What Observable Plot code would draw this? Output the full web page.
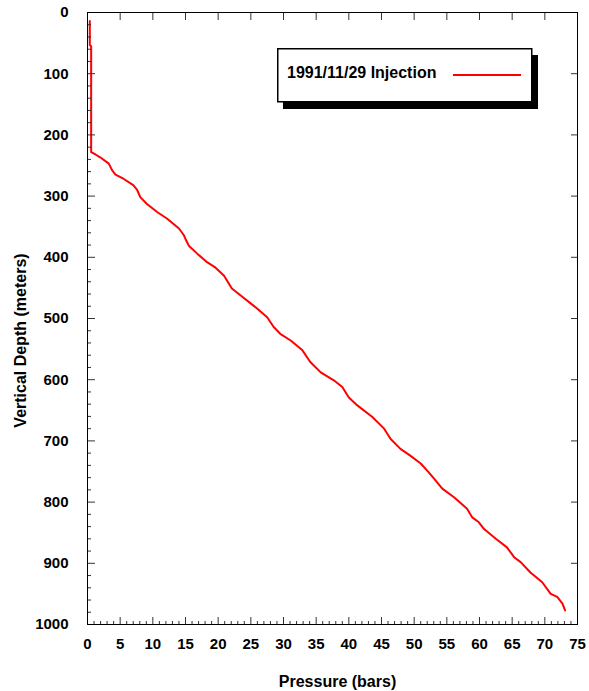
<!DOCTYPE html>
<html><head><meta charset="utf-8">
<script src="https://cdn.jsdelivr.net/npm/d3@7"></script>
<script src="https://cdn.jsdelivr.net/npm/@observablehq/plot@0.6"></script>
<style>
body{margin:0;background:#fff;}
#wrap{position:relative;width:589px;height:691px;font-family:"Liberation Sans",Arial,sans-serif;}
#legend{position:absolute;left:277px;top:48px;}
</style>
</head><body>
<div id="wrap"><div id="legend"></div></div>
<script>
const seriesName = "1991/11/29 Injection";
const xTitle = "Pressure (bars)";
const yTitle = "Vertical Depth (meters)";

const depth = [14, 53, 55, 228, 232, 237, 247, 258, 265, 272, 282, 290, 302, 313, 326, 337, 353, 364, 370, 381, 394, 408, 417, 430, 451, 462, 484, 498, 514, 525, 536, 552, 571, 588, 601, 612, 629, 642, 661, 680, 697, 713, 724, 737, 751, 765, 778, 792, 811, 825, 833, 844, 860, 874, 890, 898, 915, 931, 950, 955, 966, 977];
const pressure = [0.35, 0.35, 0.56, 0.56, 1.22, 1.99, 3.26, 3.78, 4.29, 5.56, 7.0, 7.6, 8.1, 9.1, 10.66, 12.2, 14.0, 14.75, 15.0, 15.5, 16.8, 18.3, 19.6, 20.9, 22.1, 23.4, 26.0, 27.5, 28.5, 29.5, 31.1, 32.9, 34.1, 35.7, 37.7, 39.0, 40.0, 41.3, 43.6, 45.4, 46.4, 47.9, 49.4, 51.0, 52.2, 53.3, 54.3, 56.1, 58.1, 58.9, 59.9, 60.7, 62.5, 64.2, 65.3, 66.3, 67.8, 69.6, 70.9, 71.9, 72.7, 73.1];

const xMajor = [0, 5, 10, 15, 20, 25, 30, 35, 40, 45, 50, 55, 60, 65, 70, 75];
const xMinor = d3.range(0, 76).filter(v => v % 5 !== 0);
const yMajor = [0, 100, 200, 300, 400, 500, 600, 700, 800, 900, 1000];
const yMinor = d3.range(0, 1001, 20).filter(v => v % 100 !== 0);

const data = depth.map((d, i) => ({depth: d, pressure: pressure[i]}));
const tickColor = "#333";

const chart = Plot.plot({
  width: 589,
  height: 691,
  marginLeft: 87,
  marginRight: 12,
  marginTop: 12,
  marginBottom: 67,
  style: {fontFamily: "'Liberation Sans', Arial, sans-serif", fontSize: "15px", fontWeight: "bold", background: "#fff", color: "#000"},
  x: {domain: [0, 75]},
  y: {domain: [0, 1000], reverse: true},
  marks: [
    Plot.line(data, {x: "pressure", y: "depth", stroke: "#ff0000", strokeWidth: 2}),
    // bottom axis
    Plot.axisX({anchor: "bottom", ticks: xMajor, tickSize: 0, tickPadding: 14, tickFormat: d => String(d), label: null}),
    Plot.axisX({anchor: "bottom", ticks: xMajor, tickSize: -7, tickFormat: () => "", stroke: tickColor, label: null}),
    Plot.axisX({anchor: "bottom", ticks: xMinor, tickSize: -3, tickFormat: () => "", stroke: tickColor, label: null}),
    // top axis ticks
    Plot.axisX({anchor: "top", ticks: xMajor, tickSize: -7, tickFormat: () => "", stroke: tickColor, label: null}),
    // left axis
    Plot.axisY({anchor: "left", ticks: yMajor, tickSize: 0, tickPadding: 19, tickFormat: d => String(d), label: null}),
    Plot.axisY({anchor: "left", ticks: yMajor, tickSize: -8, tickFormat: () => "", stroke: tickColor, label: null}),
    Plot.axisY({anchor: "left", ticks: yMinor, tickSize: -4, tickFormat: () => "", stroke: tickColor, label: null}),
    // right axis ticks
    Plot.axisY({anchor: "right", ticks: yMajor, tickSize: -7, tickFormat: () => "", stroke: tickColor, label: null}),
    Plot.frame({stroke: "#000", strokeWidth: 1}),
    Plot.text([yTitle], {frameAnchor: "left", textAnchor: "middle", lineAnchor: "middle", rotate: -90, dx: -67, dy: 22, fontSize: 16, fontWeight: "bold", fill: "#000"}),
    Plot.text([xTitle], {frameAnchor: "bottom", textAnchor: "middle", lineAnchor: "middle", dx: 5, dy: 57, fontSize: 16, fontWeight: "bold", fill: "#000"})
  ]
});
document.getElementById("wrap").prepend(chart);

// legend
const lg = d3.select("#legend").append("svg").attr("width", 264).attr("height", 64)
  .style("font-family", "'Liberation Sans', Arial, sans-serif");
lg.append("rect").attr("x", 6).attr("y", 7).attr("width", 255).attr("height", 54).attr("fill", "#000");
lg.append("rect").attr("x", 0.75).attr("y", 0.75).attr("width", 254).attr("height", 53).attr("fill", "#fff").attr("stroke", "#000").attr("stroke-width", 1.5);
lg.append("text").attr("x", 10).attr("y", 30).attr("font-size", 16).attr("font-weight", "bold").attr("fill", "#000").text(seriesName);
lg.append("line").attr("x1", 176).attr("x2", 244).attr("y1", 27).attr("y2", 27).attr("stroke", "#ff0000").attr("stroke-width", 2);
</script>
</body></html>
